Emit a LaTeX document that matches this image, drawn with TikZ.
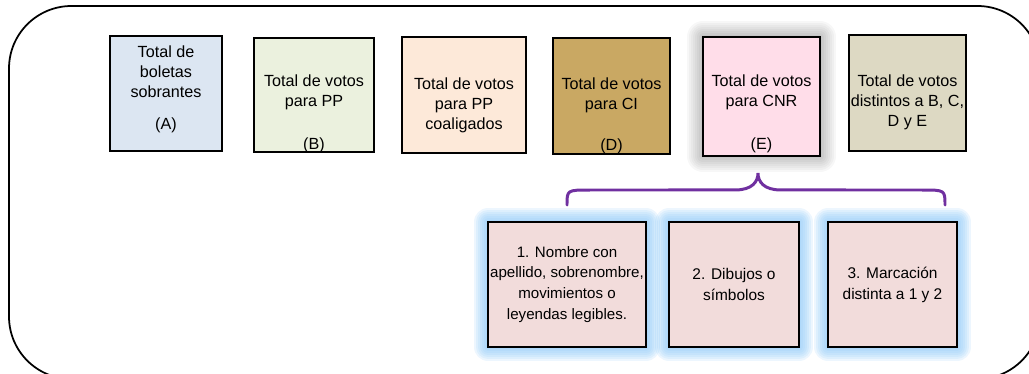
\documentclass[tikz,border=0pt]{standalone}
\usepackage{fontspec}
\setmainfont{Liberation Sans}
\usetikzlibrary{positioning}
\usetikzlibrary{backgrounds}

\definecolor{fillA}{HTML}{DCE6F2}
\definecolor{fillB}{HTML}{EBF1DE}
\definecolor{fillC}{HTML}{FDE9D9}
\definecolor{fillD}{HTML}{C9A863}
\definecolor{fillE}{HTML}{FFDDE9}
\definecolor{fillF}{HTML}{DDD9C3}
\definecolor{fillSub}{HTML}{F2DCDB}
\definecolor{glowblue}{HTML}{8CC8F8}
\definecolor{bracepurple}{HTML}{7030A0}

\begin{document}
\begin{tikzpicture}[x=0.02cm, y=-0.02cm,
        % Standard style for all boxes
        box/.style={draw, line width=0.9pt, inner sep=0pt, outer sep=0pt},
        % Style for the text inside the boxes
        boxtext/.style={align=center, inner sep=0pt,
        font=\fontsize{9.2}{11.3}\selectfont},
        % Style for the glow round the boxes
        glow/.style={fill=glowblue, opacity=0.16}
    ]

    \useasboundingbox (0,0) rectangle (1029,374);
    \clip (0,0) rectangle (1029,374);

    % --- Outer frame ---
    \draw[line width=1pt, rounded corners=1.25cm] (9,6) rectangle (1040,379);

    % --- Row 1: totals ---
    % A. Leftover ballots
    \node[box, fill=fillA, minimum width=2.24cm, minimum height=2.3cm] (boxA) at (166,93.5) {};
    \node[boxtext] (boxA_text) at ([shift={(0,-4)}]boxA.center) {Total de\\boletas\\sobrantes\\[7pt](A)};

    % B. Votes for PP
    \node[box, fill=fillB, minimum width=2.4cm, minimum height=2.28cm] (boxB) at (314,95) {};
    \node[boxtext] (boxB_text) at ([shift={(0,-3)}]boxB.center) {Total de votos\\para PP};
    \node[boxtext] (boxB_tag) at ([shift={(0,-7)}]boxB.south) {(B)};

    % C. Votes for coalition PP
    \node[box, fill=fillC, minimum width=2.48cm, minimum height=2.32cm] (boxC) at (464,95) {};
    \node[boxtext] (boxC_text) at ([shift={(0,10)}]boxC.center) {Total de votos\\para PP\\coaligados};

    % D. Votes for CI
    \node[box, fill=fillD, minimum width=2.34cm, minimum height=2.32cm] (boxD) at (611.5,96) {};
    \node[boxtext] (boxD_text) at ([shift={(0,-1)}]boxD.center) {Total de votos\\para CI};
    \node[boxtext] (boxD_tag) at ([shift={(0,-8)}]boxD.south) {(D)};

    % E. Votes for CNR
    \node[box, fill=fillE, minimum width=2.34cm, minimum height=2.38cm] (boxE) at (761.5,96.5) {};
    \node[boxtext] (boxE_text) at ([shift={(0,-4.5)}]boxE.center) {Total de votos\\para CNR};
    \node[boxtext] (boxE_tag) at ([shift={(0,-11)}]boxE.south) {(E)};

    % F. Other votes
    \node[box, fill=fillF, minimum width=2.34cm, minimum height=2.32cm] (boxF) at (907.5,93) {};
    \node[boxtext] (boxF_text) at ([shift={(0,9)}]boxF.center) {Total de votos\\distintos a B, C,\\D y E};

    % --- Row 2: kinds of CNR votes ---
    \node[box, fill=fillSub, minimum width=3.16cm, minimum height=2.5cm, boxtext,
        font=\fontsize{8.6}{11.9}\selectfont] (sub1) at (567,284.5)
        {1. Nombre con\\apellido, sobrenombre,\\movimientos o\\leyendas legibles.};
    \node[box, fill=fillSub, minimum width=2.6cm, minimum height=2.5cm, boxtext,
        font=\fontsize{8.8}{11.9}\selectfont] (sub2) at (734,284.5) {2. Dibujos o\\s\'imbolos};
    \node[box, fill=fillSub, minimum width=2.58cm, minimum height=2.5cm, boxtext,
        font=\fontsize{8.8}{11.9}\selectfont] (sub3) at (892.5,284.5) {3. Marcaci\'on\\distinta a 1 y 2};

    % --- Shadow and glows (behind the boxes) ---
    \begin{pgfonlayer}{background}
        \foreach \r in {2,4,...,16}
            \fill[black, opacity=0.03, rounded corners=\r*0.02cm]
                ([shift={(-\r,-\r)}]boxE.north west) rectangle ([shift={(\r,\r)}]boxE.south east);
        \foreach \n in {sub1,sub2,sub3}
            \foreach \r in {2,4,...,14}
                \fill[glow, rounded corners=\r*0.02cm]
                    ([shift={(-\r,-\r)}]\n.north west) rectangle ([shift={(\r,\r)}]\n.south east);
    \end{pgfonlayer}

    % --- Brace from E to the three kinds ---
    \coordinate (brace_tip) at ([shift={(-3.5,17)}]boxE.south);
    \coordinate (brace_left) at ([shift={(0,-17)}]sub1.north);
    \coordinate (brace_right) at ([shift={(52.5,-17)}]sub3.north);
    \draw[bracepurple, line width=1.7pt, line cap=round]
        (brace_left) .. controls ([shift={(0,-15)}]brace_left) .. ([shift={(23,-15)}]brace_left)
        -- ([shift={(-23,17)}]brace_tip)
        .. controls ([shift={(-6,17)}]brace_tip) and ([shift={(0,9)}]brace_tip) .. (brace_tip)
        .. controls ([shift={(0,9)}]brace_tip) and ([shift={(6,17)}]brace_tip) .. ([shift={(23,17)}]brace_tip)
        -- ([shift={(-23,-15)}]brace_right)
        .. controls ([shift={(0,-15)}]brace_right) .. (brace_right);

\end{tikzpicture}
\end{document}
